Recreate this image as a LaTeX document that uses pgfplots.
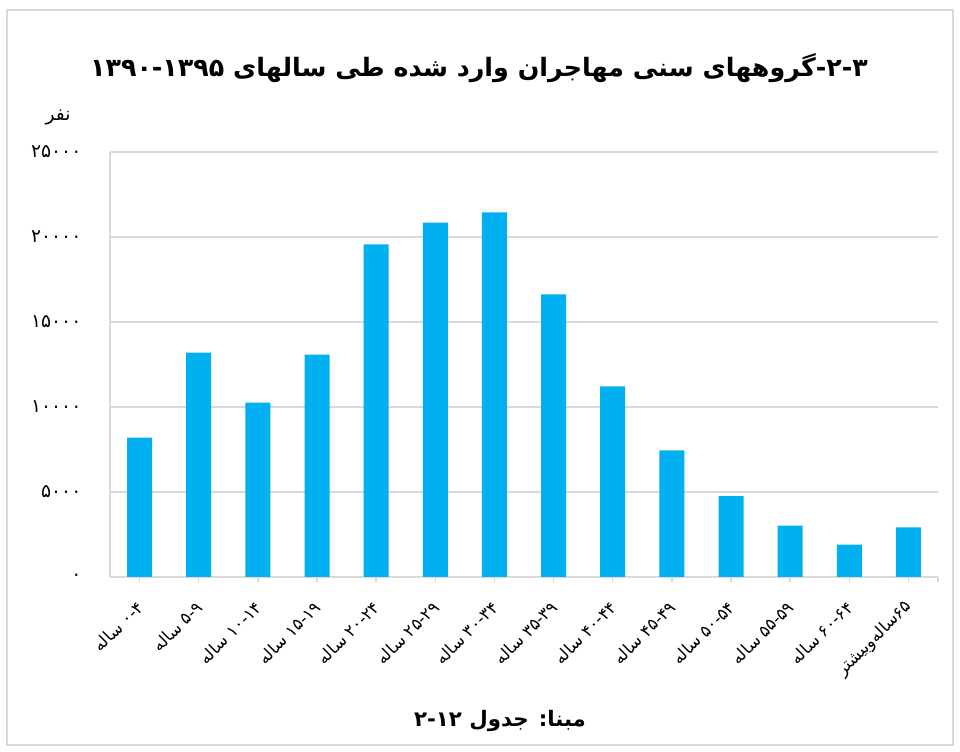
\documentclass[border=0pt]{standalone}
\usepackage{fontspec}
\usepackage{pgfplots}
\pgfplotsset{compat=1.18}
\TeXXeTstate=1
\setmainfont{DejaVu Sans}
\newfontfamily\fa[Script=Arabic]{DejaVu Sans}
\definecolor{barblue}{HTML}{00B0F0}
\definecolor{gridgray}{HTML}{D9D9D9}

% age groups of migrants, persons
\pgfplotstableread{
x y
0 8200
1 13200
2 10260
3 13080
4 19570
5 20850
6 21450
7 16630
8 11220
9 7450
10 4750
11 3020
12 1900
13 2920
}\migrants

\begin{document}
\begin{tikzpicture}[x=0.75pt,y=0.75pt]
\useasboundingbox (0,0) rectangle (960,752);
\draw[gridgray, line width=0.9pt] (7,7) rectangle (953,742);
\begin{axis}[
    at={(82.5pt,131.25pt)}, anchor=south west,
    scale only axis, width=621pt, height=318.75pt,
    ybar, bar width=18.75pt,
    xmin=-0.5, xmax=13.5, ymin=0, ymax=25000,
    axis x line=bottom, axis y line=left,
    axis line style={-, gridgray, line width=1.2pt},
    xtick={0,...,13},
    extra x ticks={13.5}, extra x tick labels={},
    xticklabels={
      {\fa\beginR ۰-۴ ساله\endR}, {\fa\beginR ۵-۹ ساله\endR},
      {\fa\beginR ۱۰-۱۴ ساله\endR}, {\fa\beginR ۱۵-۱۹ ساله\endR},
      {\fa\beginR ۲۰-۲۴ ساله\endR}, {\fa\beginR ۲۵-۲۹ ساله\endR},
      {\fa\beginR ۳۰-۳۴ ساله\endR}, {\fa\beginR ۳۵-۳۹ ساله\endR},
      {\fa\beginR ۴۰-۴۴ ساله\endR}, {\fa\beginR ۴۵-۴۹ ساله\endR},
      {\fa\beginR ۵۰-۵۴ ساله\endR}, {\fa\beginR ۵۵-۵۹ ساله\endR},
      {\fa\beginR ۶۰-۶۴ ساله\endR}, {\fa\beginR ۶۵سالەوبیشتر\endR}},
    xticklabel style={font=\fontsize{12.5}{14}\selectfont, xshift=3pt, yshift=-14pt, rotate=45, anchor=east},
    tick align=outside, major tick length=4pt,
    xtick style={gridgray, line width=1pt},
    ytick={0,5000,10000,15000,20000,25000},
    yticklabels={{\fa ۰}, {\fa ۵۰۰۰}, {\fa ۱۰۰۰۰}, {\fa ۱۵۰۰۰}, {\fa ۲۰۰۰۰}, {\fa ۲۵۰۰۰}},
    yticklabel style={font=\fontsize{14}{16}\selectfont, xshift=-14pt},
    ytick style={draw=none},
    ymajorgrids, grid style={gridgray, line width=1.2pt},
    scaled y ticks=false,
  ]
  \addplot[fill=barblue, draw=none] table[x=x, y=y] {\migrants};
\end{axis}
\node[font=\fa\fontsize{14}{16}\selectfont] at (58,634) {\beginR نفر\endR};
\node[font=\fa\bfseries\fontsize{19}{23}\selectfont] at (479,684) {\beginR ۲-۳-گروههای سنی مهاجران وارد شده طی سالهای ۱۳۹۰-۱۳۹۵\endR};
\node[font=\fa\bfseries\fontsize{16}{18}\selectfont] at (500,31) {\beginR مبنا: جدول ۲-۱۲\endR};
\end{tikzpicture}
\end{document}
